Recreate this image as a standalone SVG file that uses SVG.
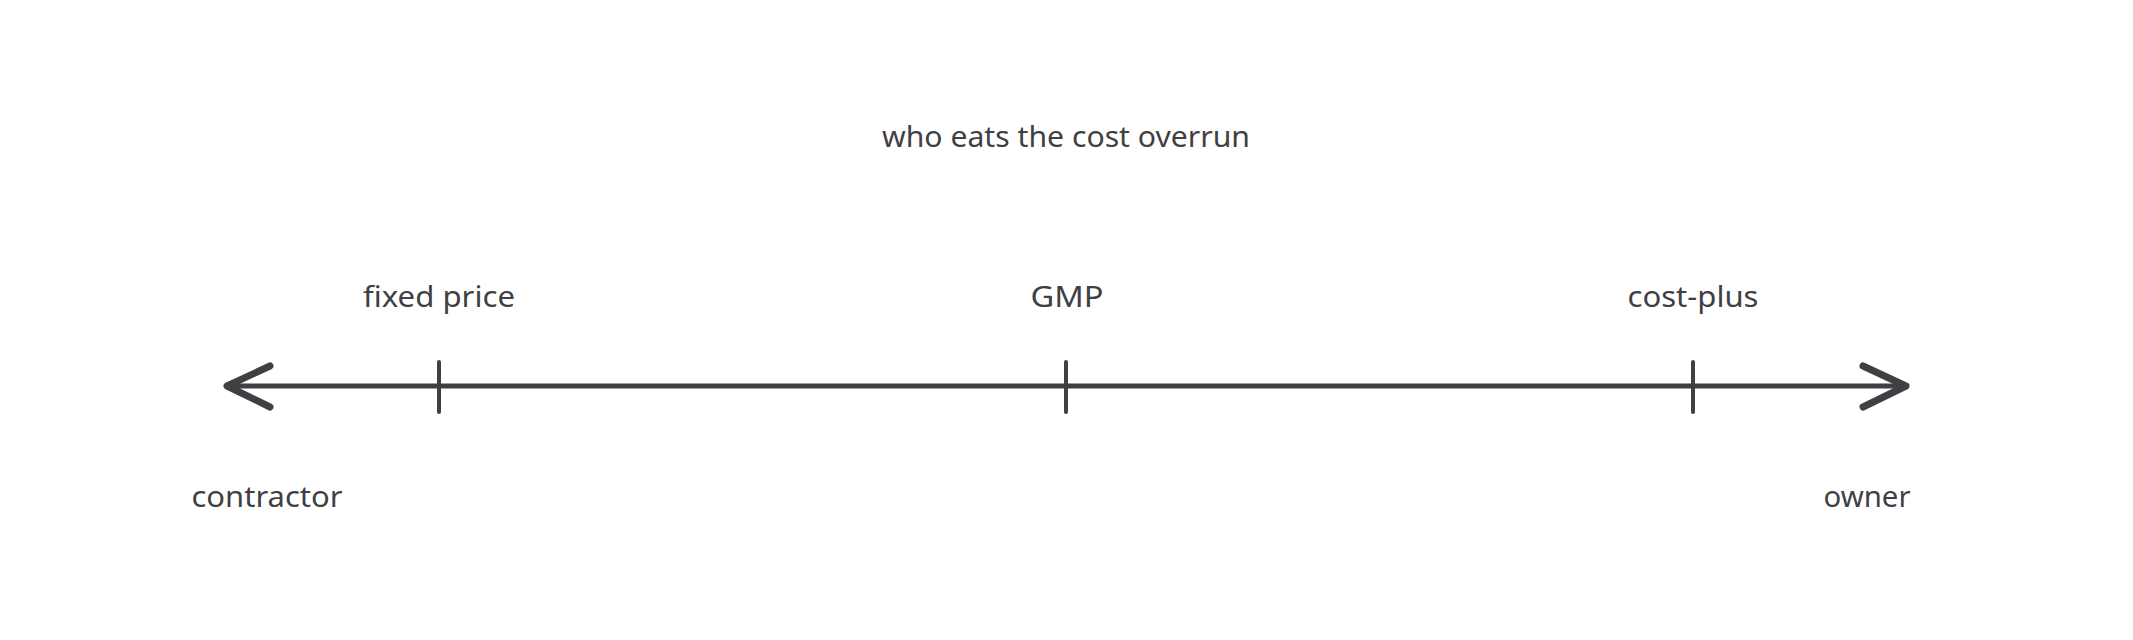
<svg xmlns="http://www.w3.org/2000/svg" width="2133" height="640" viewBox="0 0 2133 640">
<style>
.t{font-family:"Noto Sans","Liberation Sans",sans-serif;font-size:29px;fill:#3f3f44;text-anchor:middle}
.ln{stroke:#3f3f44;fill:none;stroke-linecap:round;stroke-linejoin:round}
</style>
<rect width="2133" height="640" fill="#ffffff"/>
<g id="title"><text class="t" x="1066" y="147" textLength="368" lengthAdjust="spacingAndGlyphs">who eats the cost overrun</text></g>
<g id="connectors">
<line class="ln" x1="227" y1="386" x2="1905" y2="386" stroke-width="5"/>
<polyline class="ln" points="270,366 227,386 270,407" stroke-width="7"/>
<polyline class="ln" points="1863,366 1906,386 1863,407" stroke-width="7"/>
</g>
<g id="fixed-price">
<line class="ln" x1="439" y1="362" x2="439" y2="412" stroke-width="4"/>
<text class="t" x="439" y="307" textLength="152" lengthAdjust="spacingAndGlyphs">fixed price</text>
</g>
<g id="gmp">
<line class="ln" x1="1066" y1="362" x2="1066" y2="412" stroke-width="4"/>
<text class="t" x="1067" y="307" textLength="73" lengthAdjust="spacingAndGlyphs">GMP</text>
</g>
<g id="cost-plus">
<line class="ln" x1="1693" y1="362" x2="1693" y2="412" stroke-width="4"/>
<text class="t" x="1693" y="307" textLength="131" lengthAdjust="spacingAndGlyphs">cost-plus</text>
</g>
<g id="contractor"><text class="t" x="267" y="507" textLength="151" lengthAdjust="spacingAndGlyphs">contractor</text></g>
<g id="owner"><text class="t" x="1867" y="507" textLength="87" lengthAdjust="spacingAndGlyphs">owner</text></g>
</svg>
